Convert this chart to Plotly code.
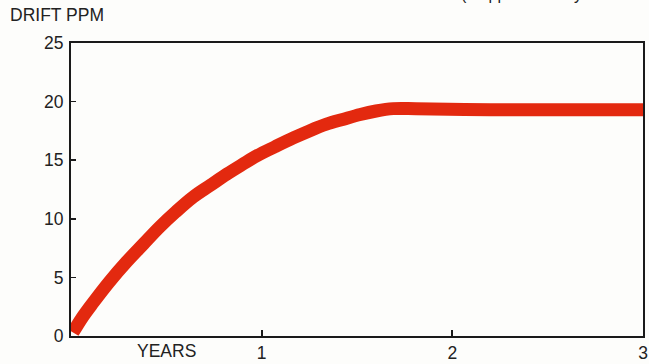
import plotly.graph_objects as go

years = [0.01, 0.06, 0.114, 0.2, 0.29, 0.38, 0.465, 0.55, 0.64, 0.73, 0.816, 0.9, 0.977, 1.07, 1.166, 1.25, 1.34, 1.43, 1.517, 1.6, 1.69, 1.81, 2.2, 2.6, 3.0]
drift_ppm = [0.3, 1.6, 2.8, 4.6, 6.3, 7.85, 9.3, 10.6, 11.85, 12.85, 13.8, 14.65, 15.4, 16.15, 16.9, 17.5, 18.07, 18.5, 18.9, 19.2, 19.4, 19.4, 19.3, 19.3, 19.3]
x_tick_vals = [1, 2, 3]
x_tick_text = ["1", "2", "3"]
y_tick_vals = [0, 5, 10, 15, 20, 25]

font_family = "Liberation Sans, Arial, sans-serif"
ink = "#222222"
fs = 17.5

fig = go.Figure()
fig.add_trace(go.Scatter(
    x=years, y=drift_ppm, mode="lines",
    line=dict(color="#e3290f", width=13, shape="spline", smoothing=1.0),
    hoverinfo="skip", showlegend=False,
))

fig.update_layout(
    width=649, height=364,
    margin=dict(l=71, r=6, t=43, b=28),
    paper_bgcolor="#fdfdfb", plot_bgcolor="#fdfdfb",
    font=dict(family=font_family, size=fs, color=ink),
    showlegend=False,
)
fig.update_xaxes(
    range=[0, 3], showgrid=False, zeroline=False, automargin=False,
    showline=True, linecolor="#1a1a1a", linewidth=2, mirror=True,
    ticks="inside", ticklen=6, tickwidth=2, tickcolor="#1a1a1a",
    tickvals=x_tick_vals, ticktext=x_tick_text,
    tickfont=dict(size=fs, family=font_family, color=ink),
    ticklabelstandoff=0,
)
fig.update_yaxes(
    range=[0, 25], showgrid=False, zeroline=False, automargin=False,
    showline=True, linecolor="#1a1a1a", linewidth=2, mirror=True,
    ticks="inside", ticklen=5, tickwidth=1.5, tickcolor="#1a1a1a",
    tickvals=y_tick_vals,
    tickfont=dict(size=fs, family=font_family, color=ink),
    ticklabelstandoff=2,
)
fig.add_annotation(
    text="DRIFT PPM", xref="paper", yref="paper", x=-0.111, y=1.095,
    xanchor="left", yanchor="middle", showarrow=False,
    font=dict(size=fs, family=font_family, color=ink),
)
fig.add_annotation(
    text="YEARS", xref="x", yref="paper", x=0.5, y=-0.05,
    xanchor="center", yanchor="middle", showarrow=False,
    font=dict(size=fs, family=font_family, color=ink),
)
fig.add_annotation(
    text="(If applicable to your m", xref="paper", yref="paper", x=0.678, y=1.128,
    xanchor="left", yanchor="bottom", showarrow=False,
    font=dict(size=16, family=font_family, color=ink),
)

fig.write_html(
    "out.html",
    config={"displayModeBar": False, "staticPlot": True},
    post_script="document.body.style.margin='0';document.body.style.overflow='hidden';",
)
